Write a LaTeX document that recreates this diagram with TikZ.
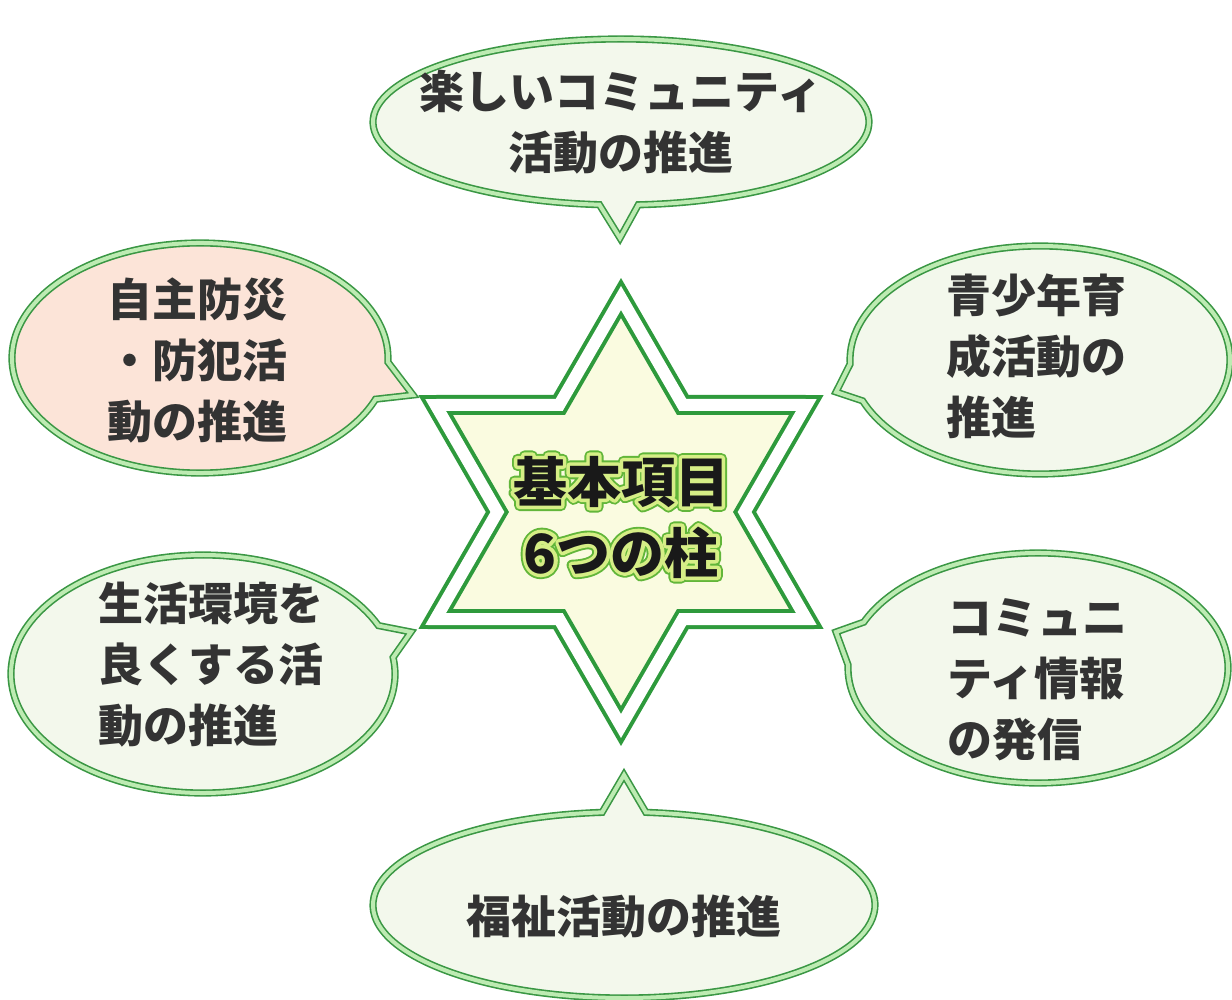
\documentclass[tikz,border=0pt]{standalone}
\usepackage{fontspec}
\newfontfamily\jp{Noto Sans CJK JP}
\newfontfamily\jphaloA{Noto Sans CJK JP}[FakeBold=20]
\newfontfamily\jphaloB{Noto Sans CJK JP}[FakeBold=13]
\definecolor{bubdark}{HTML}{3A9744}
\definecolor{bublight}{HTML}{BDEBB2}
\definecolor{bubfill}{HTML}{F3F8EC}
\definecolor{pinkfill}{HTML}{FCE4D8}
\definecolor{stargreen}{HTML}{2E9A3C}
\definecolor{starfill}{HTML}{FAFBE0}
\definecolor{txtgray}{HTML}{333333}
\definecolor{halodark}{HTML}{62B63A}
\definecolor{halolight}{HTML}{D6EE86}
\tikzset{
  bub/.style={draw=bubdark, line width=1.6pt, double=bublight, double distance=4pt, line join=miter, fill=bubfill},
  starshape/.style={draw=stargreen, line width=4pt, double=white, double distance=12pt, line join=miter, fill=starfill},
  txt/.style={font=\jp\bfseries\fontsize{45}{61}\selectfont, text=txtgray, inner sep=0pt, align=left},
  ctxt/.style={inner sep=0pt, align=center},
}
\begin{document}
\begin{tikzpicture}[x=1pt,y=-1pt]
\fill[white] (0,0) rectangle (1232,1000);
\useasboundingbox (0,0) rectangle (1232,1000);

% speech bubbles
\draw[bub] (621,122) ++(95:248 and 83) arc[start angle=95,end angle=446,x radius=248,y radius=83] -- (620,238) -- cycle;
\draw[bub,fill=pinkfill] (200,358) ++(21:188 and 115) arc[start angle=21,end angle=362,x radius=188,y radius=115] -- (413,395) -- cycle;
\draw[bub] (1040,360) ++(178:190 and 114) arc[start angle=178,end angle=519,x radius=190,y radius=114] -- (836,392) -- cycle;
\draw[bub] (203,674) ++(-8:192 and 119) arc[start angle=-8,end angle=336,x radius=192,y radius=119] -- (411,632) -- cycle;
\draw[bub] (1038,668) ++(203.5:190 and 115) arc[start angle=203.5,end angle=541.5,x radius=190,y radius=115] -- (836,632) -- cycle;
\draw[bub] (624,905) ++(275:251 and 93) arc[start angle=275,end angle=625,x radius=251,y radius=93] -- (624,775) -- cycle;

% star
\begin{scope}[shift={(621,512)}]
\draw[starshape] (270:214) -- (300:123.6) -- (330:214) -- (0:123.6) -- (30:214) -- (60:123.6) -- (90:214) -- (120:123.6) -- (150:214) -- (180:123.6) -- (210:214) -- (240:123.6) -- cycle;
\end{scope}

% bubble texts
\node[txt,align=center] (t1) at (621,122) {楽しいコミュニティ\\活動の推進};
\node[txt,anchor=west] (t2) at (107,360) {自主防災\\・防犯活\\動の推進};
\node[txt,anchor=west] (t3) at (946,356) {青少年育\\成活動の\\推進};
\node[txt,anchor=west] (t4) at (98,665) {生活環境を\\良くする活\\動の推進};
\node[txt,anchor=west] (t5) at (947,680) {コミュニ\\ティ情報\\の発信};
\node[txt] (t6) at (624,917) {福祉活動の推進};

% centre text with halo
\begin{scope}[line join=round, line cap=round]
\node[ctxt,text=halodark,font={\jphaloA\bfseries\fontsize{54}{71}\selectfont}] (haloA) at (621,517) {基本項目\\6つの柱};
\node[ctxt,text=halolight,font={\jphaloB\bfseries\fontsize{54}{71}\selectfont}] (haloB) at (621,517) {基本項目\\6つの柱};
\end{scope}
\node[ctxt,text=black!90,font={\jp\bfseries\fontsize{54}{71}\selectfont}] (center) at (621,517) {基本項目\\6つの柱};
\end{tikzpicture}
\end{document}
